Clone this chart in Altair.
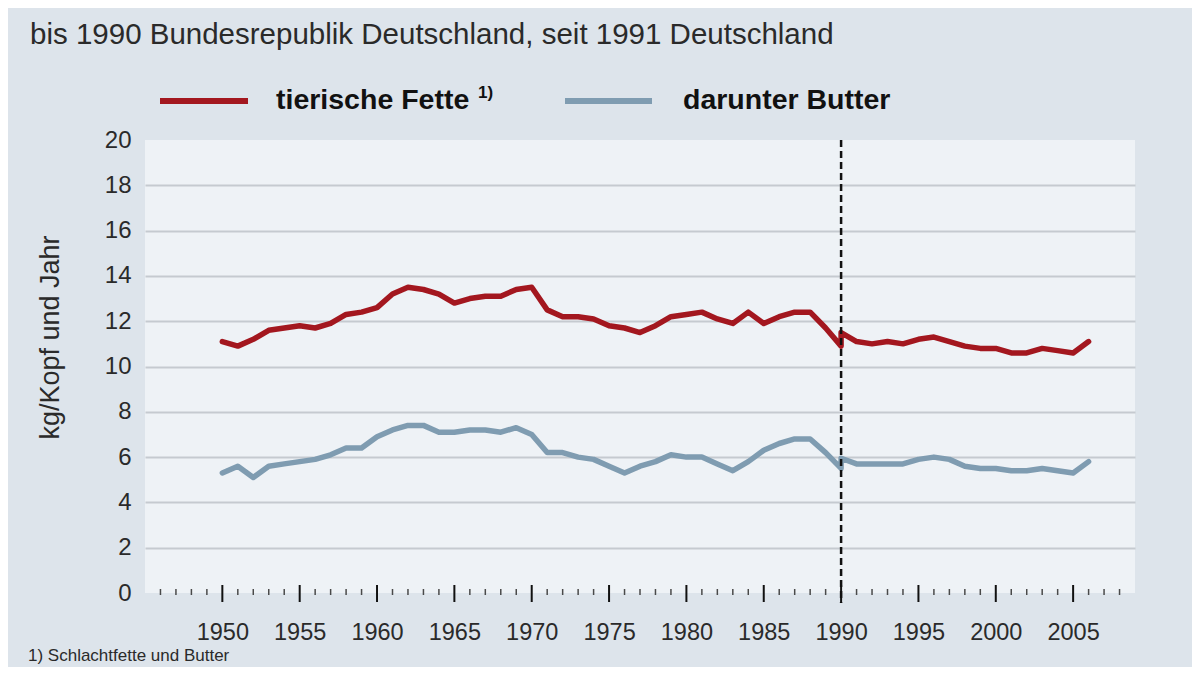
import altair as alt
import pandas as pd

# ---- data ----
years = list(range(1950, 1991)) + [1990] + list(range(1991, 2007))
fette = [11.1, 10.9, 11.2, 11.6, 11.7, 11.8, 11.7, 11.9, 12.3, 12.4,
         12.6, 13.2, 13.5, 13.4, 13.2, 12.8, 13.0, 13.1, 13.1, 13.4,
         13.5, 12.5, 12.2, 12.2, 12.1, 11.8, 11.7, 11.5, 11.8, 12.2,
         12.3, 12.4, 12.1, 11.9, 12.4, 11.9, 12.2, 12.4, 12.4, 11.7,
         10.9, 11.5,
         11.1, 11.0, 11.1, 11.0, 11.2, 11.3, 11.1, 10.9, 10.8, 10.8,
         10.6, 10.6, 10.8, 10.7, 10.6, 11.1]
butter = [5.3, 5.6, 5.1, 5.6, 5.7, 5.8, 5.9, 6.1, 6.4, 6.4,
          6.9, 7.2, 7.4, 7.4, 7.1, 7.1, 7.2, 7.2, 7.1, 7.3,
          7.0, 6.2, 6.2, 6.0, 5.9, 5.6, 5.3, 5.6, 5.8, 6.1,
          6.0, 6.0, 5.7, 5.4, 5.8, 6.3, 6.6, 6.8, 6.8, 6.2,
          5.5, 5.95,
          5.7, 5.7, 5.7, 5.7, 5.9, 6.0, 5.9, 5.6, 5.5, 5.5,
          5.4, 5.4, 5.5, 5.4, 5.3, 5.8]

series_names = ["tierische Fette", "darunter Butter"]
series_colors = ["#a3171f", "#7f9cb1"]
x_label_values = [1950, 1955, 1960, 1965, 1970, 1975, 1980, 1985, 1990, 1995, 2000, 2005]
y_values = [0, 2, 4, 6, 8, 10, 12, 14, 16, 18, 20]
minor_tick_years = [y for y in range(1946, 2009) if y % 5 != 0]
major_tick_years = [y for y in range(1950, 2009) if y % 5 == 0]
split_year = [1990]

subtitle = "bis 1990 Bundesrepublik Deutschland, seit 1991 Deutschland"
y_title = "kg/Kopf und Jahr"
footnote_mark = "1)"
footnote = "1) Schlachtfette und Butter"

FONT = "Liberation Sans, Arial, sans-serif"

rows = []
for i, (yr, v) in enumerate(zip(years, fette)):
    rows.append({"idx": i, "year": yr, "value": v, "series": series_names[0]})
for i, (yr, v) in enumerate(zip(years, butter)):
    rows.append({"idx": i, "year": yr, "value": v, "series": series_names[1]})
df = pd.DataFrame(rows)

xscale = alt.Scale(domain=[1945, 2009], nice=False, zero=False)
yscale = alt.Scale(domain=[0, 20], nice=False)

lines = alt.Chart(df).mark_line(strokeWidth=5.5, strokeJoin="round", strokeCap="round").encode(
    x=alt.X("year:Q", scale=xscale,
            axis=alt.Axis(values=x_label_values, format="d", grid=False, domain=False,
                          ticks=False, labelFontSize=23.5, labelFont=FONT, labelColor="#2a2a2a",
                          labelPadding=27, title=None)),
    y=alt.Y("value:Q", scale=yscale,
            axis=alt.Axis(values=y_values, grid=True, domain=False, ticks=False,
                          gridColor="#c5cad0", gridWidth=2,
                          gridOpacity={"condition": {"test": "datum.value == 0 || datum.value == 20", "value": 0}, "value": 1},
                          labelFontSize=24, labelFont=FONT, labelColor="#2a2a2a", labelPadding=14,
                          title=y_title, titleFont=FONT, titleFontSize=27, titleFontWeight="normal",
                          titleColor="#2a2a2a", titleAngle=270, titleX=-95, titleY=197,
                          titleAlign="center", titleBaseline="middle")),
    color=alt.Color("series:N", scale=alt.Scale(domain=series_names, range=series_colors), legend=None),
    detail="series:N",
    order="idx:Q",
)

split = alt.Chart(pd.DataFrame({"year": split_year})).mark_rule(
    color="#111111", strokeWidth=2.5, strokeDash=[7, 4]
).encode(x=alt.X("year:Q", scale=xscale), y=alt.value(0), y2=alt.value(463))

minor_ticks = alt.Chart(pd.DataFrame({"year": minor_tick_years})).mark_rule(
    color="#4a4a4a", strokeWidth=1.5, yOffset=-4, y2Offset=2
).encode(x=alt.X("year:Q", scale=xscale), y=alt.datum(0, scale=yscale), y2=alt.datum(0))

major_ticks = alt.Chart(pd.DataFrame({"year": major_tick_years})).mark_rule(
    color="#111111", strokeWidth=2, yOffset=-8, y2Offset=9
).encode(x=alt.X("year:Q", scale=xscale), y=alt.datum(0, scale=yscale), y2=alt.datum(0))

sub = alt.Chart(pd.DataFrame({"t": [subtitle]})).mark_text(
    align="left", baseline="alphabetic", font=FONT, fontSize=29.5, color="#2a2a2a"
).encode(x=alt.value(-115), y=alt.value(-96), text="t:N")

leg_red = alt.Chart(pd.DataFrame({"s": [series_names[0]]})).mark_rule(
    color=series_colors[0], strokeWidth=6
).encode(x=alt.value(15), x2=alt.value(103), y=alt.value(-39))
leg_blue = alt.Chart(pd.DataFrame({"s": [series_names[1]]})).mark_rule(
    color=series_colors[1], strokeWidth=6
).encode(x=alt.value(420), x2=alt.value(507), y=alt.value(-39))
leg_t1 = alt.Chart(pd.DataFrame({"t": [series_names[0]]})).mark_text(
    align="left", baseline="alphabetic", font=FONT, fontSize=28.5, fontWeight="bold", color="#111111"
).encode(x=alt.value(131), y=alt.value(-31), text="t:N")
leg_sup = alt.Chart(pd.DataFrame({"t": [footnote_mark]})).mark_text(
    align="left", baseline="alphabetic", font=FONT, fontSize=17, fontWeight="bold", color="#111111"
).encode(x=alt.value(333), y=alt.value(-42), text="t:N")
leg_t2 = alt.Chart(pd.DataFrame({"t": [series_names[1]]})).mark_text(
    align="left", baseline="alphabetic", font=FONT, fontSize=28.5, fontWeight="bold", color="#111111"
).encode(x=alt.value(538), y=alt.value(-31), text="t:N")

foot = alt.Chart(pd.DataFrame({"t": [footnote]})).mark_text(
    align="left", baseline="top", font=FONT, fontSize=17, color="#2a2a2a"
).encode(x=alt.value(-117), y=alt.value(508), text="t:N")

chart = alt.layer(
    lines, split, minor_ticks, major_ticks, sub, leg_red, leg_blue, leg_t1, leg_sup, leg_t2, foot
).properties(
    width=990, height=453,
    autosize=alt.AutoSizeParams(type="none"),
    padding={"left": 137, "top": 132, "right": 57, "bottom": 74},
    background="#dde4eb",
).configure_view(fill="#eef2f6", stroke=None)

chart.save("out.html", embed_options={"renderer": "svg", "actions": False})
